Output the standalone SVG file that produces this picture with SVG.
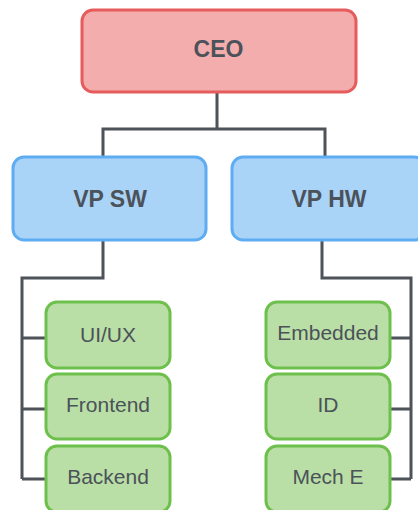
<svg xmlns="http://www.w3.org/2000/svg" width="418" height="510" viewBox="0 0 418 510">
<style>
.n rect{stroke-width:3}
.ceo rect{fill:#f3adad;stroke:#e65b5b}
.vp rect{fill:#aad3f8;stroke:#5eacf2}
.leaf rect{fill:#badfa6;stroke:#6ec04d}
text{font-family:"Liberation Sans",Arial,sans-serif;fill:#4b5259;text-anchor:middle}
.b{font-weight:bold;font-size:23px}
.r{font-size:21px}
#edges path{fill:none;stroke:#4d5359;stroke-width:3}
</style>
<rect width="418" height="510" fill="#ffffff"/>
<g id="edges">
<path d="M217,92 V129 M103,157 V129 H325 V157"/>
<path d="M103,240 V278 H22 V479 M22,338 H46 M22,409 H46 M22,479 H46"/>
<path d="M322,240 V278 H411 V479 M389,338 H411 M389,409 H411 M389,479 H411"/>
</g>
<g id="ceo" class="n ceo"><rect x="82" y="10" width="274" height="82" rx="11"/><text class="b" x="218.5" y="57">CEO</text></g>
<g id="vpsw" class="n vp"><rect x="13" y="157" width="193" height="83" rx="11"/><text class="b" x="110" y="207">VP SW</text></g>
<g id="vphw" class="n vp"><rect x="232" y="157" width="193" height="83" rx="11"/><text class="b" x="329" y="207">VP HW</text></g>
<g id="uiux" class="n leaf"><rect x="46" y="302" width="124" height="66" rx="11"/><text class="r" x="108" y="342">UI/UX</text></g>
<g id="frontend" class="n leaf"><rect x="46" y="374" width="124" height="65" rx="11"/><text class="r" x="108" y="412">Frontend</text></g>
<g id="backend" class="n leaf"><rect x="46" y="446" width="124" height="66" rx="11"/><text class="r" x="108" y="484">Backend</text></g>
<g id="embedded" class="n leaf"><rect x="266" y="302" width="124" height="66" rx="11"/><text class="r" x="328" y="340">Embedded</text></g>
<g id="id" class="n leaf"><rect x="266" y="374" width="124" height="65" rx="11"/><text class="r" x="328" y="412">ID</text></g>
<g id="meche" class="n leaf"><rect x="266" y="446" width="124" height="66" rx="11"/><text class="r" x="328" y="484">Mech E</text></g>
</svg>
